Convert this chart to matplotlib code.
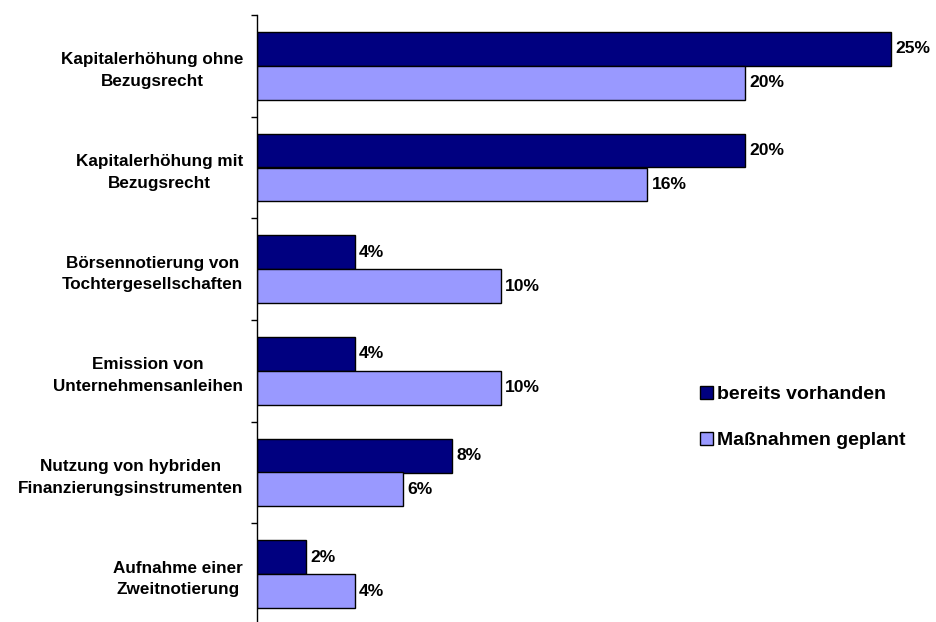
import matplotlib.pyplot as plt
from matplotlib.patches import Patch
import numpy as np

categories = ["Kapitalerhöhung ohne\nBezugsrecht",
              "Kapitalerhöhung mit\nBezugsrecht",
              "Börsennotierung von\nTochtergesellschaften",
              "Emission von\nUnternehmensanleihen",
              "Nutzung von hybriden\nFinanzierungsinstrumenten",
              "Aufnahme einer\nZweitnotierung"]
vorhanden = [26, 20, 4, 4, 8, 2]
geplant = [20, 16, 10, 10, 6, 4]
vorhanden_labels = ["25%", "20%", "4%", "4%", "8%", "2%"]
geplant_labels = ["20%", "16%", "10%", "10%", "6%", "4%"]
series_names = ["bereits vorhanden", "Maßnahmen geplant"]

plt.rcParams['font.family'] = ['Liberation Sans', 'DejaVu Sans']
plt.rcParams['font.weight'] = 'bold'

c_dark = "#000080"
c_light = "#9999FF"

fig = plt.figure(figsize=(9.36, 6.22), dpi=100)
# axes: left edge 257px, top 15px, bottom 625px, 24.4px per percent
ax = fig.add_axes([257/936, -3/622, 27*24.4/936, 610/622])

y = np.arange(len(categories)) + 0.5
h = 0.334
ax.barh(y - h/2, vorhanden, height=h, color=c_dark, edgecolor="black", linewidth=1)
ax.barh(y + h/2, geplant, height=h, color=c_light, edgecolor="black", linewidth=1)

for i in range(len(categories)):
    ax.annotate(vorhanden_labels[i], (vorhanden[i], y[i] - h/2), xytext=(3, 0),
                textcoords="offset points", va="center", ha="left", fontsize=12.6, fontweight="bold")
    ax.annotate(geplant_labels[i], (geplant[i], y[i] + h/2), xytext=(3, 0),
                textcoords="offset points", va="center", ha="left", fontsize=12.6, fontweight="bold")

ax.set_xlim(0, 27)
ax.set_ylim(len(categories), 0)

for s in ["top", "right", "bottom"]:
    ax.spines[s].set_visible(False)
ax.spines["left"].set_linewidth(1)
ax.set_xticks([])

ax.set_yticks(np.arange(len(categories) + 1))
ax.set_yticklabels([])
ax.tick_params(axis="y", which="major", direction="out", length=4, width=1)
ax.set_yticks(y, minor=True)
ax.set_yticklabels(categories, minor=True, fontsize=12.3, fontweight="bold")
ax.tick_params(axis="y", which="minor", length=0, pad=10)
for t in ax.get_yticklabels(minor=True):
    t.set_multialignment("center")
    t.set_linespacing(1.55)

handles = [Patch(facecolor=c_dark, edgecolor="black"), Patch(facecolor=c_light, edgecolor="black")]
fig.legend(handles, series_names, loc="upper left", bbox_to_anchor=(684/936, 1 - 370/622),
           frameon=False, prop={"weight": "bold", "size": 14},
           handlelength=0.67, handleheight=0.67, handletextpad=0.22, labelspacing=1.47,
           borderpad=0.3)

fig.savefig("out.png", dpi=100)
